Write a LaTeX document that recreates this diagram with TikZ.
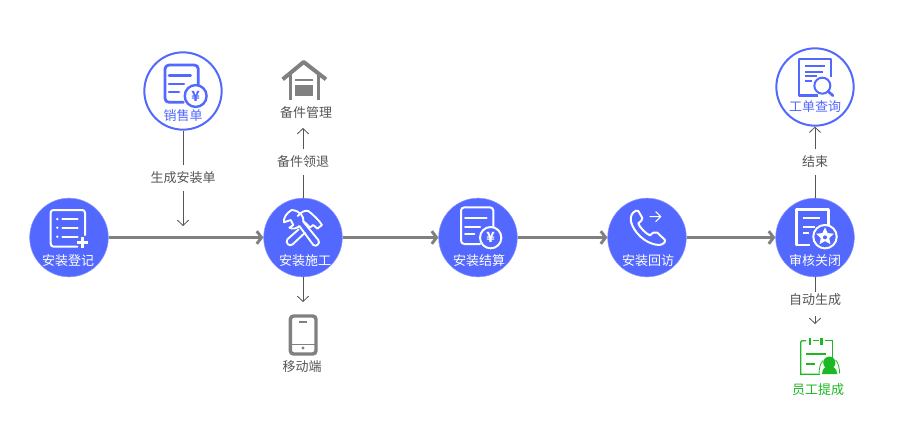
\documentclass[tikz,border=0pt]{standalone}
\usepackage{fontspec}
\setmainfont{Noto Sans CJK SC}
\usetikzlibrary{arrows.meta,shapes.geometric}
\definecolor{brandblue}{HTML}{5368FF}
\definecolor{midgray}{HTML}{808080}
\definecolor{txtgray}{HTML}{555555}
\definecolor{okgreen}{HTML}{1DB924}
\tikzset{
  px/.style={x=0.75pt,y=-0.75pt},
  solidcirc/.style={circle,fill=brandblue,draw=brandblue!70!white,line width=0.4pt,minimum size=59pt,inner sep=0pt},
  ringcirc/.style={circle,fill=white,draw=brandblue,line width=1.5pt,minimum size=58pt,inner sep=0pt},
  whitetxt/.style={text=white,font=\fontsize{9.75pt}{10pt}\selectfont,inner sep=0pt},
  bluetxt/.style={text=brandblue,font=\fontsize{9.75pt}{10pt}\selectfont,inner sep=0pt},
  graytxt/.style={text=txtgray,font=\fontsize{9.75pt}{10pt}\selectfont,inner sep=0pt},
  greentxt/.style={text=okgreen,font=\fontsize{9.75pt}{10pt}\selectfont,inner sep=0pt},
  linktxt/.style={graytxt,fill=white,minimum height=19.5pt},
  mainlink/.style={draw=midgray,line width=2.4pt,-{Straight Barb[length=3.6pt,width=9.5pt,line width=2.2pt]}},
  thinlink/.style={draw=txtgray,line width=0.7pt},
  thinarrow/.style={thinlink,-{Straight Barb[length=4pt,width=8.5pt,line width=0.6pt]}},
  ic/.style={line width=1.5pt,line cap=round,line join=round},
  zoomed/.style={shift={(#1)},x=0.25pt,y=-0.25pt},
  yen/.style={font=\bfseries\fontsize{10.5pt}{10.5pt}\selectfont,inner sep=0pt},
}
\begin{document}
\begin{tikzpicture}[px]
\useasboundingbox (0,0) rectangle (912,443);
% circles
\node[solidcirc] (reg) at (69,237.5) {};
\node[solidcirc] (work) at (303,237.5) {};
\node[solidcirc] (settle) at (478,237.5) {};
\node[solidcirc] (visit) at (647,237.5) {};
\node[solidcirc] (close) at (815,237.5) {};
\node[ringcirc] (sale) at (183,91) {};
\node[ringcirc] (query) at (815,87) {};
% main links
\draw[mainlink] (reg) -- (work);
\draw[mainlink] (work) -- (settle);
\draw[mainlink] (settle) -- (visit);
\draw[mainlink] (visit) -- (close);
% link labels
\node[linktxt] (lgen) at (183,178) {生成安装单};
\node[linktxt] (lpart) at (303,162) {备件领退};
\node[linktxt] (lend) at (815,162) {结束};
\node[linktxt,minimum height=12pt] (lauto) at (815,300) {自动生成};
% free ends
\coordinate (egen) at (183,226);
\coordinate (epart) at (303,128);
\coordinate (emob) at (303,302);
\coordinate (eauto) at (815,324);
% thin links
\draw[thinlink] (sale) -- (lgen);
\draw[thinarrow] (lgen) -- (egen);
\draw[thinlink] (work) -- (lpart);
\draw[thinarrow] (lpart) -- (epart);
\draw[thinarrow] (work) -- (emob);
\draw[thinlink] (close) -- (lauto);
\draw[thinlink] (close) -- (lend);
\draw[thinarrow] (lend) -- (query);
\draw[thinarrow] (lauto.south |- 0,316) -- (eauto);
% texts
\node[whitetxt] (t1) at (68,260.5) {安装登记};
\node[whitetxt] (t2) at (305,261) {安装施工};
\node[whitetxt] (t3) at (479,260.5) {安装结算};
\node[whitetxt] (t4) at (648,260.5) {安装回访};
\node[whitetxt] (t5) at (815,260.5) {审核关闭};
\node[bluetxt] (t6) at (183,116) {销售单};
\node[bluetxt] (t7) at (815,107) {工单查询};
\node[graytxt] (t8) at (306,113) {备件管理};
\node[graytxt] (t9) at (302,367) {移动端};
\node[greentxt] (t10) at (818,390) {员工提成};
% icon: register
\begin{scope}[zoomed={20,40}]
\draw[white,ic] (172,620) -- (100,620) to[out=180,in=-90] (92,610) -- (92,518) to[out=90,in=180] (100,510) -- (187,510) to[out=0,in=90] (195,518) -- (195,585);
\foreach \y in {537,563,590}{
  \fill[white] (112,\y) circle (1pt);
  \draw[white,ic] (127,\y) -- (173,\y);}
\draw[white,line width=1.8pt] (172,607) -- (204,607) (188,591) -- (188,623);
\end{scope}
% icon: sale
\begin{scope}[zoomed={20,40}]
\draw[brandblue,line width=2.1pt,line cap=round,line join=round] (490,187) -- (447,187) to[out=180,in=-90] (435,175) -- (435,87) to[out=90,in=180] (447,75) -- (523,75) to[out=0,in=90] (535,87) -- (535,135);
\draw[brandblue,line width=1.9pt,line cap=round] (447,107) -- (512,107) (447,132) -- (492,132) (447,156) -- (477,156);
\draw[fill=white,draw=brandblue,line width=1.8pt] (527,168) circle (8.2pt);
\node[yen,text=brandblue] (y1) at (527,168) {¥};
\end{scope}
% icon: settle
\begin{scope}[zoomed={430,190}]
\draw[ic,white] (150,162) -- (103,162) to[out=180,in=-90] (93,152) -- (93,62) to[out=90,in=180] (103,52) -- (180,52) to[out=0,in=90] (190,62) -- (190,112);
\draw[ic,white] (105,85) -- (170,85) (105,110) -- (150,110) (105,133) -- (133,133);
\draw[fill=brandblue,draw=white,line width=1.5pt] (182,143) circle (8pt);
\node[yen,text=white] (y2) at (182,143) {¥};
\end{scope}
% icon: phone
\begin{scope}[zoomed={430,190}]
\draw[ic,white] (618,62) .. controls (605,68) and (600,80) .. (603,95) .. controls (610,125) and (645,162) .. (685,165) .. controls (698,165) and (706,158) .. (705,150) -- (682,128) .. controls (675,124) and (668,128) .. (660,136) .. controls (650,133) and (628,112) .. (625,100) .. controls (632,94) and (638,90) .. (637,84) -- (625,63) .. controls (623,61) and (620,61) .. (618,62) -- cycle;
\draw[white,line width=0.8pt,line cap=round] (660,80) -- (691,80) (677,65) -- (692,80) -- (677,95);
\end{scope}
% icon: tools
\begin{scope}[zoomed={250,190}]
\draw[ic,white,line width=1.4pt] (125,60) .. controls (108,70) and (100,85) .. (102,97) -- (122,90) -- (130,105) -- (118,113)
 .. controls (128,118) and (140,116) .. (148,108) -- (190,165) .. controls (198,172) and (212,160) .. (205,150) -- (160,95)
 .. controls (163,80) and (150,62) .. (125,60) -- cycle;
\draw[ic,white,line width=1.4pt] (146,118) -- (112,148) .. controls (105,158) and (118,172) .. (128,163) -- (165,128);
\draw[ic,white,line width=1.4pt] (143,78) .. controls (155,65) and (165,60) .. (175,63) .. controls (190,75) and (205,88) .. (216,105) -- (202,116) -- (190,105) -- (180,112) -- (160,93);
\end{scope}
% icon: house
\begin{scope}[zoomed={250,50}]
\draw[midgray,line width=3pt,line join=round] (98,88) -- (161,36) -- (228,88);
\draw[midgray,line width=2.6pt] (122,72) -- (122,150) (205,72) -- (205,150);
\draw[midgray,line width=1.2pt] (135,90) -- (188,90);
\fill[midgray] (135,105) rectangle (188,137);
\end{scope}
% icon: mobile
\begin{scope}[zoomed={250,190}]
\draw[midgray,line width=2.6pt,rounded corners=2.5pt] (121,378) rectangle (198,492);
\draw[midgray,line width=1.6pt] (148,396) -- (172,396);
\draw[midgray,line width=1.2pt] (121,464) -- (198,464);
\fill[midgray] (159,474) circle (1.2pt);
\end{scope}
% icon: query
\begin{scope}[zoomed={760,40}]
\draw[brandblue,line width=2.2pt,line join=round] (175,167) -- (117,167) -- (117,57) -- (213,57) -- (213,110);
\draw[brandblue,line width=1.7pt] (135,78) -- (195,78) (135,95) -- (190,95) (135,108) -- (170,108) (135,122) -- (155,122);
\draw[brandblue,fill=white,line width=1.5pt] (187,137) circle (6pt);
\draw[brandblue,line width=2pt,line cap=round] (204,154) -- (219,167);
\end{scope}
% icon: close
\begin{scope}[zoomed={760,190}]
\draw[white,line width=2pt,line join=round] (150,165) -- (110,165) -- (110,58) -- (205,58) -- (205,105);
\draw[white,line width=1.6pt] (128,85) -- (180,85) (128,110) -- (165,110) (128,130) -- (148,130);
\draw[white,fill=brandblue,line width=1.5pt] (195,140) circle (8.8pt);
\node[star,star points=5,star point ratio=2.1,fill=white,minimum size=14pt,inner sep=0pt] (st) at (195,140) {};
\fill[brandblue] (195,142) circle (1.5pt);
\end{scope}
% icon: commission
\begin{scope}[zoomed={760,190}]
\draw[okgreen,line width=0.9pt] (138,452) -- (126,452) -- (122,456) -- (122,553) -- (180,553);
\draw[okgreen,line width=0.9pt] (158,452) -- (176,452) (194,452) -- (217,452) -- (217,505);
\draw[okgreen,line width=2.2pt] (150,445) -- (150,465) (185,445) -- (185,465);
\draw[okgreen,line width=1.1pt] (138,492) -- (198,492) (138,522) -- (165,522);
\draw[okgreen,line width=0.6pt] (189,512) .. controls (180,520) and (178,535) .. (177,550);
\draw[okgreen,line width=0.6pt] (227,510) .. controls (236,520) and (238,535) .. (239,550);
\fill[okgreen] (208,518) circle (4.6pt);
\fill[okgreen] (186,552) .. controls (186,535) and (198,528) .. (208,528) .. controls (220,528) and (230,535) .. (232,552) -- cycle;
\end{scope}
\end{tikzpicture}
\end{document}
